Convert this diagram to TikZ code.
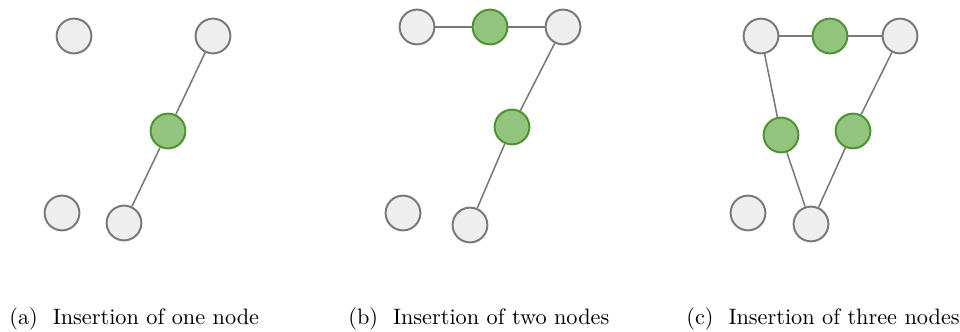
\documentclass[tikz,border=0pt]{standalone}
\usepackage{tikz}
\usetikzlibrary{positioning}
\definecolor{oldfill}{RGB}{238,238,238}
\definecolor{olddraw}{RGB}{120,120,120}
\definecolor{newfill}{RGB}{147,196,125}
\definecolor{newdraw}{RGB}{78,145,48}
\definecolor{edge}{RGB}{120,120,120}

\begin{document}
\begin{tikzpicture}[x=0.46pt, y=-0.46pt,
    old/.style={circle, draw=olddraw, fill=oldfill, line width=0.9pt, minimum size=16pt, inner sep=0pt},
    new/.style={circle, draw=newdraw, fill=newfill, line width=0.9pt, minimum size=16pt, inner sep=0pt},
    link/.style={draw=edge, line width=0.7pt},
    caption/.style={anchor=base west, inner sep=0pt, font=\fontsize{10.25}{12}\selectfont}]
    \useasboundingbox (0,0) rectangle (960,332);

    % one node
    \node (atl) [old] at (74,36) {};
    \node (atr) [old] at (213,36) {};
    \node (ains) [new] at (168,131) {};
    \node (abl) [old] at (62,213) {};
    \node (abot) [old] at (124,223) {};

    \draw[link] (atr) -- (ains);
    \draw[link] (ains) -- (abot);

    % two nodes
    \node (btl) [old] at (417,27) {};
    \node (bins1) [new] at (490,27) {};
    \node (btr) [old] at (563,27) {};
    \node (bins2) [new] at (512,127) {};
    \node (bbl) [old] at (403,213) {};
    \node (bbot) [old] at (470,225) {};

    \draw[link] (btl) -- (bins1);
    \draw[link] (bins1) -- (btr);
    \draw[link] (btr) -- (bins2);
    \draw[link] (bins2) -- (bbot);

    % three nodes
    \node (ctl) [old] at (761,36) {};
    \node (cins1) [new] at (830,36) {};
    \node (ctr) [old] at (900,36) {};
    \node (cins2) [new] at (781,135) {};
    \node (cins3) [new] at (853,131) {};
    \node (cbl) [old] at (748,213) {};
    \node (cbot) [old] at (811,224) {};

    \draw[link] (ctl) -- (cins1);
    \draw[link] (cins1) -- (ctr);
    \draw[link] (ctl) -- (cins2);
    \draw[link] (cins2) -- (cbot);
    \draw[link] (ctr) -- (cins3);
    \draw[link] (cins3) -- (cbot);

    \node (capa) [caption] at (9,325) {(a)\ \ Insertion of one node};
    \node (capb) [caption] at (348,325) {(b)\ \ Insertion of two nodes};
    \node (capc) [caption] at (686,325) {(c)\ \ Insertion of three nodes};
\end{tikzpicture}
\end{document}
